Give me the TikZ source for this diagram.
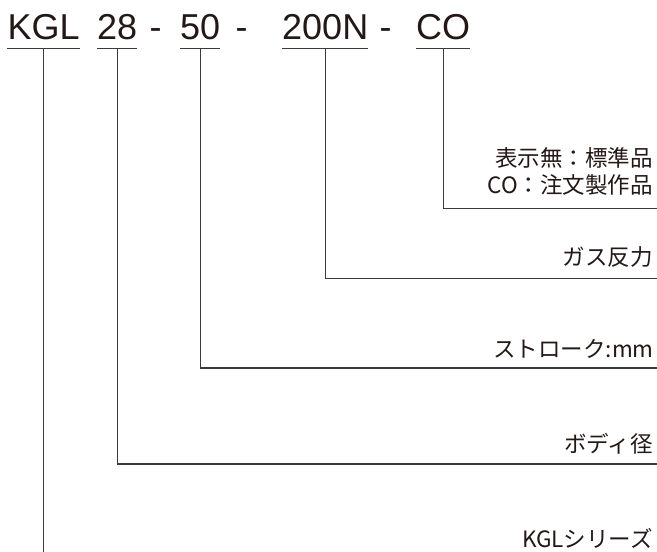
\documentclass[tikz,border=0pt]{standalone}
\usepackage{fontspec}
\setmainfont{Liberation Sans}
\newfontfamily\cjk{Noto Sans CJK JP}
\definecolor{testo}{HTML}{231815}
\definecolor{grigio}{HTML}{3E3A39}
\begin{document}
\begin{tikzpicture}[x=1bp,y=-1bp,
    codice/.style={inner sep=0pt, anchor=base west, text depth=8.8bp, text=testo, font=\fontsize{36bp}{36bp}\selectfont},
    trattino/.style={inner sep=0pt, anchor=base west, text=testo, font=\fontsize{36bp}{36bp}\selectfont},
    etichetta/.style={inner sep=0pt, anchor=base east, text=testo, font=\cjk\fontsize{22.5bp}{27bp}\selectfont},
    linea/.style={draw=grigio, line width=1.1bp}]
    \useasboundingbox (0,0) rectangle (657,552);

    % Codice
    \node[codice] (kgl) at (7.4,39.5) {KGL};
    \node[codice] (corpo) at (97,39.5) {28};
    \node[trattino] (t1) at (149.5,39.5) {-};
    \node[codice] (corsa) at (180,39.5) {50};
    \node[trattino] (t2) at (235.5,39.5) {-};
    \node[codice] (forza) at (282,39.5) {200N};
    \node[trattino] (t3) at (379.5,39.5) {-};
    \node[codice] (ordine) at (416,39.5) {CO};

    % Etichette
    \node[etichetta] (std) at (653,166.5) {表示無：標準品};
    \node[etichetta] (ordinelab) at (653,194) {CO：注文製作品};
    \node[etichetta] (forzalab) at (653,265) {ガス反力};
    \node[etichetta] (corsalab) at (654,357) {ストローク:mm};
    \node[etichetta] (corpolab) at (653,452.5) {ボディ径};
    \node[etichetta] (kgllab) at (653,547) {KGLシリーズ};

    % Estremi delle linee
    \coordinate (ordinefine) at (657,208.7);
    \coordinate (forzafine) at (657,278.7);
    \coordinate (corsafine) at (657,368);
    \coordinate (corpofine) at (657,464);
    \coordinate (kglfine) at (43,552);

    % Linee
    \foreach \n in {kgl,corpo,corsa,forza,ordine}
        \draw[linea] (\n.south west) -- (\n.south east); % sottolineatura
    \draw[linea] (ordine.south) |- (ordinefine); % CO
    \draw[linea] (forza.south) |- (forzafine); % 200N
    \draw[linea] (corsa.south) |- (corsafine); % 50
    \draw[linea] (corpo.south) |- (corpofine); % 28
    \draw[linea] (kgl.south) -- (kgl.south |- kglfine); % KGL

\end{tikzpicture}
\end{document}
